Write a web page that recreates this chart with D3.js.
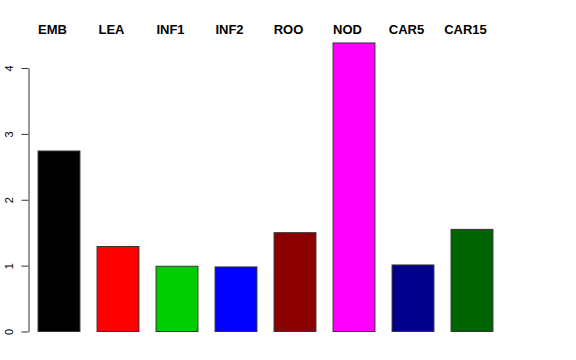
<!DOCTYPE html>
<html>
<head>
<meta charset="utf-8">
<script src="https://cdn.jsdelivr.net/npm/d3@7"></script>
<style>
  html, body { margin: 0; padding: 0; background: #fff; }
  svg { display: block; font-family: "Liberation Sans", Arial, Helvetica, sans-serif; }
  .bar-label { font-size: 13px; font-weight: bold; fill: #000; }
  .y-axis text { font-size: 11px; fill: #000; }
  .y-axis path, .y-axis line { stroke: #333; }
</style>
</head>
<body>
<svg id="chart" width="576" height="360"></svg>
<script>
const categories = ["EMB", "LEA", "INF1", "INF2", "ROO", "NOD", "CAR5", "CAR15"];
const values = [2.74, 1.29, 0.99, 0.98, 1.50, 4.38, 1.01, 1.55];
const colors = ["#000000", "#ff0000", "#00cd00", "#0000ff", "#8b0000", "#ff00ff", "#00008b", "#006400"];
const yTicks = [0, 1, 2, 3, 4];

const svg = d3.select("#chart");

const x = d3.scaleBand()
  .domain(categories)
  .range([29.5, 501.5])
  .paddingInner(0.29)
  .paddingOuter(0.145);

const y = d3.scaleLinear()
  .domain([0, 4])
  .range([331.5, 68]);

// bars
svg.selectAll("rect.bar")
  .data(categories)
  .join("rect")
  .attr("class", "bar")
  .attr("x", d => x(d))
  .attr("y", (d, i) => y(values[i]))
  .attr("width", x.bandwidth())
  .attr("height", (d, i) => y(0) - y(values[i]))
  .attr("fill", (d, i) => colors[i])
  .attr("stroke", "#333")
  .attr("stroke-width", 1);

// y axis, R style: labels parallel to axis
const yAxis = svg.append("g")
  .attr("class", "y-axis")
  .attr("transform", "translate(28.5,0)")
  .call(d3.axisLeft(y).tickValues(yTicks).tickSize(7).tickSizeOuter(0).tickFormat(d3.format("d")));

yAxis.selectAll(".tick text")
  .attr("x", 0)
  .attr("dy", 0)
  .attr("text-anchor", "middle")
  .attr("transform", "translate(-16,0) rotate(-90)");

// category labels on top
svg.selectAll("text.bar-label")
  .data(categories)
  .join("text")
  .attr("class", "bar-label")
  .attr("x", d => x(d) + x.bandwidth() / 2 - 6.5)
  .attr("y", 34)
  .attr("text-anchor", "middle")
  .text(d => d);
</script>
</body>
</html>
